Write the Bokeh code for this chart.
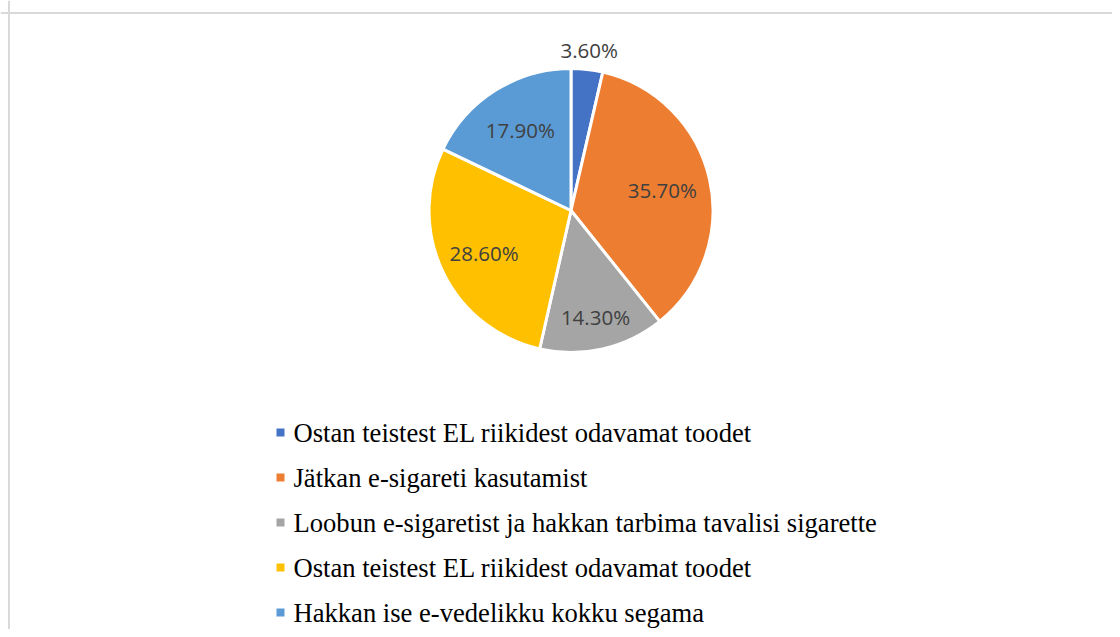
import math
from bokeh.plotting import figure
from bokeh.models import Range1d, Span, ColumnDataSource
from bokeh.core.properties import value
from bokeh.embed import file_html
from bokeh.resources import INLINE

# ---- data ----
categories = [
    "Ostan teistest EL riikidest odavamat toodet",
    "Jätkan e-sigareti kasutamist",
    "Loobun e-sigaretist ja hakkan tarbima tavalisi sigarette",
    "Ostan teistest EL riikidest odavamat toodet",
    "Hakkan ise e-vedelikku kokku segama",
]
shares = [3.6, 35.7, 14.3, 28.6, 17.9]
labels = ["3.60%", "35.70%", "14.30%", "28.60%", "17.90%"]
colors = ["#4472C4", "#ED7D31", "#A5A5A5", "#FFC000", "#5B9BD5"]

# ---- layout (pixel-like coordinates, y downwards negated) ----
W, H = 1112, 629
cx, cy, R = 570.5, -210.0, 142.0
label_r = [1.14, 0.66, 0.77, 0.68, 0.67]

p = figure(width=W, height=H, output_backend="svg", toolbar_location=None,
           x_range=Range1d(0, W), y_range=Range1d(-H, 0),
           x_axis_type=None, y_axis_type=None,
           min_border_left=0, min_border_right=0, min_border_top=0, min_border_bottom=0,
           background_fill_color="white", border_fill_color="white",
           outline_line_color=None)
p.grid.visible = False

total = sum(shares)
starts, ends, lx, ly = [], [], [], []
cum = 0.0
for s, fr in zip(shares, label_r):
    a0 = math.pi / 2 - 2 * math.pi * cum / total
    a1 = math.pi / 2 - 2 * math.pi * (cum + s) / total
    mid = (a0 + a1) / 2
    starts.append(a0)
    ends.append(a1)
    lx.append(cx + R * fr * math.cos(mid))
    ly.append(cy + R * fr * math.sin(mid))
    cum += s

src = ColumnDataSource(dict(start=starts, end=ends, color=colors, lx=lx, ly=ly, label=labels))
p.wedge(x=cx, y=cy, radius=R, start_angle="start", end_angle="end", direction="clock",
        fill_color="color", line_color="white", line_width=3, source=src)
p.text(x="lx", y="ly", text="label", source=src, text_font=value("Open Sans"),
       text_font_size="20.5px", text_color="#404040", text_align="center",
       text_baseline="middle")

# legend
ys = [-(432 + i * 45) for i in range(len(categories))]
lsrc = ColumnDataSource(dict(y=ys, color=colors, name=categories))
p.rect(x=280, y="y", width=8, height=8, fill_color="color", line_color=None, source=lsrc)
p.text(x=293, y="y", text="name", source=lsrc, text_font=value("Liberation Serif"),
       text_font_size="26.6px", text_color="#000000", text_align="left",
       text_baseline="middle")

# chart border (left and top visible)
p.add_layout(Span(location=8.5, dimension="height", line_color="#d9d9d9", line_width=2))
p.add_layout(Span(location=-12.5, dimension="width", line_color="#d9d9d9", line_width=2))

open("out.html", "w").write(file_html(p, INLINE))
